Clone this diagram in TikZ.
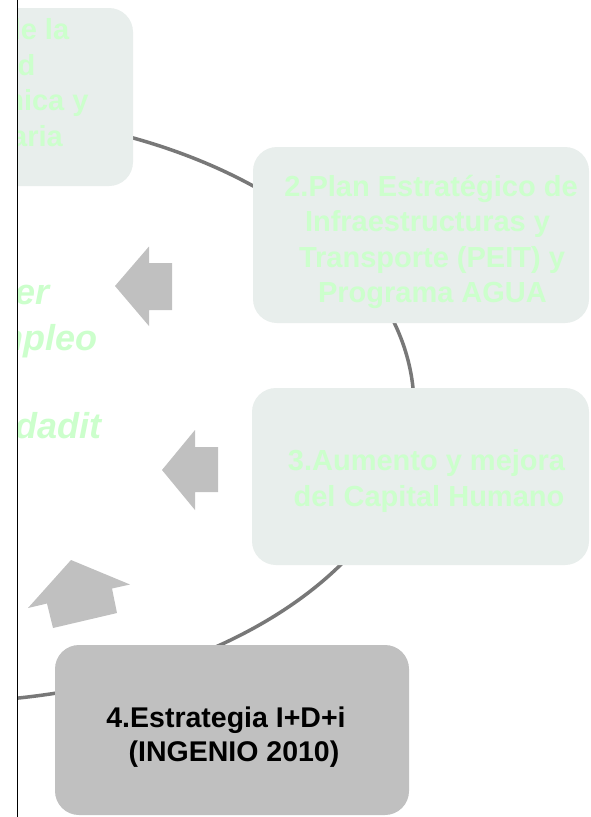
\documentclass[tikz,border=0pt]{standalone}
\usepackage{fontspec}
\setmainfont{Liberation Sans}
\definecolor{boxfill}{RGB}{232,238,236}
\definecolor{txtgreen}{RGB}{204,255,204}
\definecolor{silverc}{RGB}{192,192,192}
\definecolor{ringgray}{RGB}{120,120,120}
\begin{document}
\begin{tikzpicture}[x=1pt,y=-1pt,
  stagebox/.style={draw=none, rounded corners=24pt, inner sep=0pt, outer sep=0pt, anchor=north west},
  lightbox/.style={stagebox, fill=boxfill},
  darkbox/.style={stagebox, fill=silverc},
  gline/.style={text=txtgreen, font=\fontsize{29}{35}\selectfont\bfseries, inner sep=0pt, anchor=base},
  kline/.style={text=black, font=\fontsize{28.5}{34}\selectfont\bfseries, inner sep=0pt, anchor=base},
  cline/.style={text=txtgreen, font=\fontsize{36}{44}\selectfont\bfseries\itshape, inner sep=0pt, anchor=base east},
  ring/.style={draw=ringgray, line width=3.5pt},
  cyclearrow/.style={fill=silverc, draw=none}]
\useasboundingbox (0,0) rectangle (590,817);
\fill[white] (0,0) rectangle (590,817);
\begin{scope}
  \clip (18,0) rectangle (590,817);
  % ring
  \draw[ring] (-60.8,407.2) ellipse [x radius=474.8pt, y radius=294.9pt];
  % boxes
  \node[lightbox, minimum width=356pt, minimum height=178pt] (b1) at (-223,8) {};
  \node[lightbox, minimum width=336pt, minimum height=176pt] (b2) at (253,147) {};
  \node[lightbox, minimum width=337pt, minimum height=177pt] (b3) at (252,388) {};
  \node[darkbox, minimum width=354pt, minimum height=170pt] (b4) at (55,645) {};
  % arrows
  \fill[cyclearrow] (115,286) -- (149,246.5) -- (149,263) -- (172,263) -- (172,310) -- (149,310) -- (149,326) -- cycle;
  \fill[cyclearrow] (162,470) -- (195,430) -- (195,447) -- (218,447) -- (218,492) -- (195,492) -- (195,510) -- cycle;
  \fill[cyclearrow] (71,560) -- (130,584.5) -- (112,588.5) -- (117,613) -- (53,628) -- (47,603.5) -- (28,608) -- cycle;
  % box 1 text
  \node[gline] (t1a) at (-42,39.5) {1.Refuerzo de la};
  \node[gline] (t1b) at (-42,75) {Estabilidad};
  \node[gline] (t1c) at (-42,110.5) {Macroeconómica y};
  \node[gline] (t1d) at (-42,146) {Presupuestaria};
  % box 2 text
  \node[gline] (t2a) at (431,196) {2.Plan Estratégico de};
  \node[gline] (t2b) at (427.5,231.5) {Infraestructuras y};
  \node[gline] (t2c) at (432,267) {Transporte (PEIT) y};
  \node[gline] (t2d) at (432.5,302.5) {Programa AGUA};
  % box 3 text
  \node[gline] (t3a) at (426.5,470.5) {3.Aumento y mejora};
  \node[gline] (t3b) at (429,506) {del Capital Humano};
  % box 4 text
  \node[kline] (t4a) at (226,727) {4.Estrategia I+D+i};
  \node[kline] (t4b) at (234,761) {(INGENIO 2010)};
  % centre text
  \node[cline] (c1) at (50,304) {er};
  \node[cline] (c2) at (98,350) {empleo};
  \node[cline] (c3) at (102,438) {dadit};
\end{scope}
\draw[line width=1.6pt, black] (17.3,0) -- (17.3,817);
\end{tikzpicture}
\end{document}
